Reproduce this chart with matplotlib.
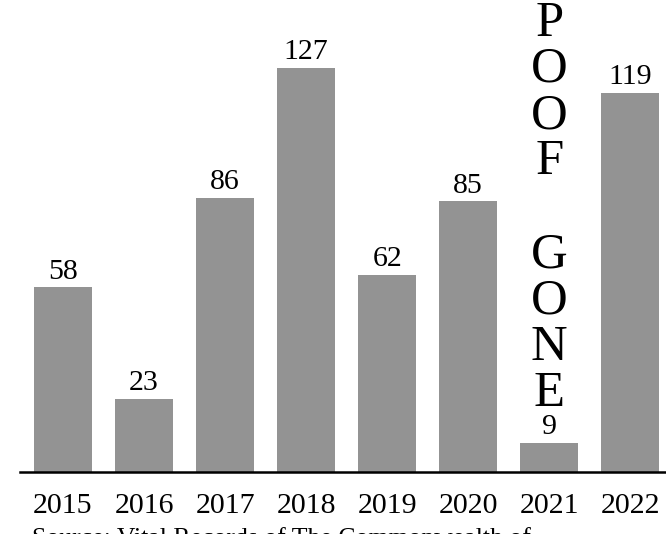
import matplotlib.pyplot as plt

# data
years = ['2015', '2016', '2017', '2018', '2019', '2020', '2021', '2022']
counts = [58, 23, 86, 127, 62, 85, 9, 119]
note_year = '2021'
note_text = 'P\nO\nO\nF\n\nG\nO\nN\nE'
source = 'Source: Vital Records of The Commonwealth of\nMassachusetts'

plt.rcParams['font.family'] = ['Liberation Serif', 'DejaVu Serif']

fig = plt.figure(figsize=(6.66, 5.34), dpi=100)
ax = fig.add_axes([20 / 666, 62 / 534, 1 - 20 / 666, 472 / 534])

x = list(range(len(years)))
ax.bar(x, counts, width=0.716, color='#939393')
for xi, c in zip(x, counts):
    ax.text(xi, c + 0.9, str(c), ha='center', va='bottom', fontsize=21.5)

ax.set_xlim(-0.53, 7.44)
ax.set_ylim(0, 148.3)
ax.set_xticks(x)
ax.set_xticklabels(years, fontsize=21.5)
ax.tick_params(axis='x', length=0, pad=15)
ax.set_yticks([])
for s in ['left', 'right', 'top']:
    ax.spines[s].set_visible(False)
ax.spines['bottom'].set_linewidth(1.8)

ax.text(years.index(note_year), 148.3, note_text, ha='center', va='top',
        fontsize=36.5, linespacing=0.995)

# source line sits partly below the bottom edge, as in the reference
fig.text(32 / 666, 1 - 528 / 534, source, ha='left', va='top', fontsize=18.5)

fig.savefig('out.png', dpi=100)
